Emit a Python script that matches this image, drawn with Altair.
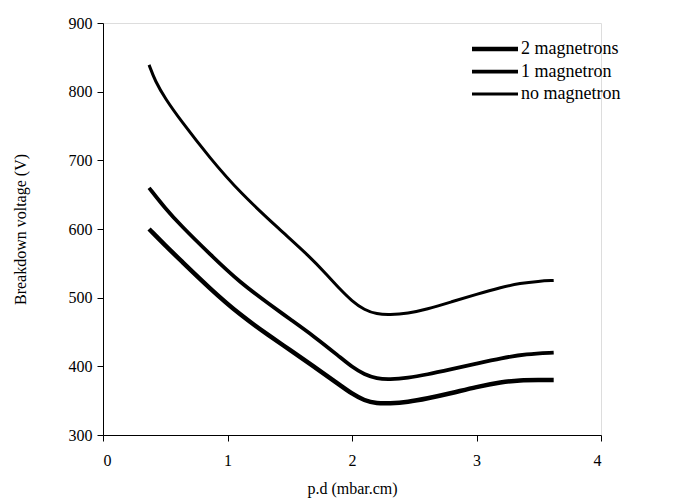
import altair as alt
import pandas as pd

x_none = [0.37, 0.42, 0.50, 0.62, 0.86, 1.10, 1.42, 1.66, 1.80, 1.90, 2.00, 2.10, 2.20, 2.30, 2.45, 2.60, 2.80, 3.00, 3.20, 3.35, 3.50, 3.62]
v_none = [839, 815, 790, 759, 703, 653, 599, 560, 533, 513, 495, 482, 476, 475, 477, 483, 494, 505, 515, 521, 524, 525]

x_one = [0.37, 0.50, 0.62, 0.86, 1.10, 1.34, 1.50, 1.70, 1.90, 2.00, 2.10, 2.20, 2.30, 2.45, 2.60, 2.80, 3.00, 3.20, 3.40, 3.62]
v_one = [660, 630, 606, 563, 522, 490, 469, 443, 414, 399, 388, 382, 381, 383, 388, 396, 404, 412, 418, 420]

x_two = [0.37, 0.50, 0.62, 0.86, 1.10, 1.34, 1.50, 1.70, 1.90, 2.00, 2.10, 2.20, 2.30, 2.45, 2.60, 2.80, 3.00, 3.20, 3.35, 3.50, 3.62]
v_two = [600, 576, 555, 513, 475, 444, 424, 399, 373, 360, 350, 346, 346, 348, 353, 361, 370, 377, 380, 380, 380]

series_names = ["2 magnetrons", "1 magnetron", "no magnetron"]
line_widths = [4.5, 3, 2]

rows = []
for name, xs, vs in [(series_names[0], x_two, v_two),
                     (series_names[1], x_one, v_one),
                     (series_names[2], x_none, v_none)]:
    for i, (x, v) in enumerate(zip(xs, vs)):
        rows.append({"series": name, "pd": x, "V": v, "order": i})
df = pd.DataFrame(rows)

font = "'Liberation Serif', 'Times New Roman', Times, 'DejaVu Serif', serif"

axis_style = dict(grid=False, tickSize=6, labelFont=font, titleFont=font,
                  labelFontSize=16, titleFontSize=16, titleFontWeight="normal",
                  labelColor="black", titleColor="black", domainColor="black",
                  tickColor="black", domainWidth=1, tickWidth=1)

chart = alt.Chart(df).mark_line(interpolate="basis", color="black").encode(
    x=alt.X("pd:Q", scale=alt.Scale(domain=[0, 4], nice=False),
            axis=alt.Axis(title="p.d (mbar.cm)", values=[0, 1, 2, 3, 4], format="d",
                          labelPadding=11, titlePadding=12, **axis_style)),
    y=alt.Y("V:Q", scale=alt.Scale(domain=[300, 900], nice=False, zero=False),
            axis=alt.Axis(title="Breakdown voltage (V)", values=[300, 400, 500, 600, 700, 800, 900],
                          labelPadding=5, titlePadding=40, **axis_style)),
    strokeWidth=alt.StrokeWidth("series:N",
                                scale=alt.Scale(domain=series_names, range=line_widths),
                                legend=alt.Legend(title=None, orient="none", legendX=378, legendY=12,
                                                  symbolType="M-2,0H2", symbolSize=529,
                                                  symbolStrokeColor="black",
                                                  labelOffset=12, rowPadding=0,
                                                  labelFontSize=18, labelFont=font,
                                                  labelColor="black")),
    order="order:Q",
).properties(
    width=498, height=412,
    autosize=alt.AutoSizeParams(type="none"),
    padding={"left": 103, "top": 23, "right": 82, "bottom": 66},
).configure_view(stroke=None).configure(font=font)

chart.save("out.html", embed_options={"renderer": "svg", "actions": False})
